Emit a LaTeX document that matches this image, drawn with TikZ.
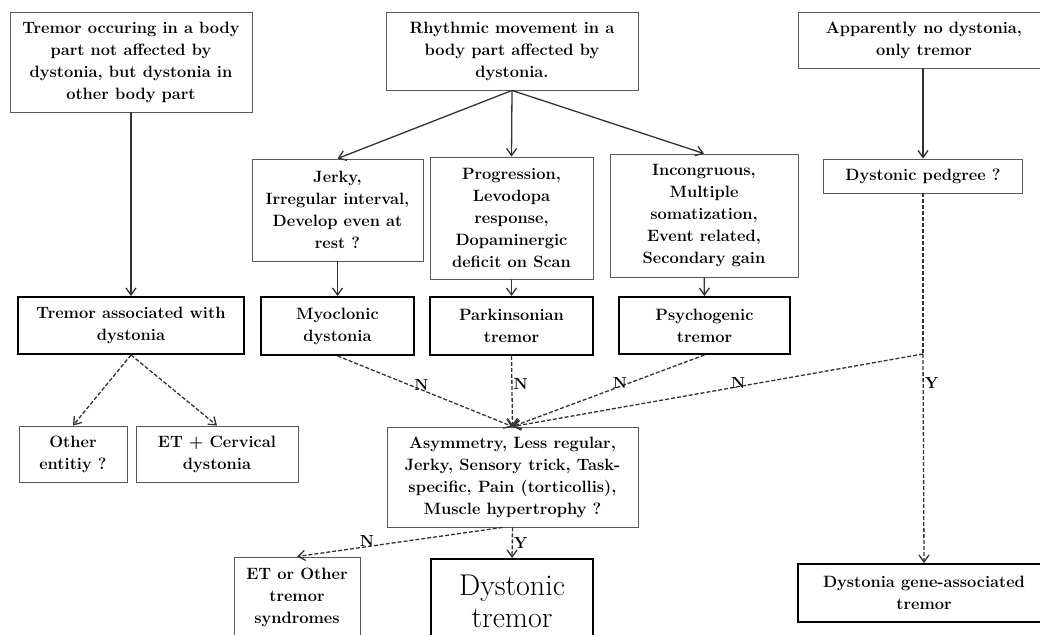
\documentclass[tikz,border=0pt]{standalone}
\usepackage{tikz}
\usetikzlibrary{arrows.meta}

\tikzset{
	box/.style={draw=black!65, line width=0.9pt, inner sep=2pt, align=center, font=\fontsize{16.4}{22}\selectfont\bfseries},
	boldbox/.style={box, draw=black, line width=1.9pt},
	arr/.style={draw=black!80, line width=1.3pt, -{Straight Barb[length=7pt,width=10pt]}},
	darr/.style={arr, dash pattern=on 4pt off 2pt},
	dline/.style={draw=black!80, line width=1.3pt, dash pattern=on 4pt off 2pt},
	lab/.style={font=\fontsize{16}{18}\selectfont\bfseries, inner sep=1pt}
}

\begin{document}
\begin{tikzpicture}[x=1pt,y=-1pt]
	\useasboundingbox (0,0) rectangle (1040,634);
	\clip (0,0) rectangle (1040,634);

	\node [box, minimum width=242, minimum height=100] (notaff) at (131,62) {Tremor occuring in a body\\part not affected by\\dystonia, but dystonia in\\other body part};
	\node [box, minimum width=252, minimum height=78] (rhythm) at (512,51) {Rhythmic movement in a\\body part affected by\\dystonia.};
	\node [box, minimum width=252, minimum height=56] (onlytrem) at (924,40) {Apparently no dystonia,\\only tremor};
	\node [box, minimum width=199, minimum height=34] (pedgree) at (923,176) {Dystonic pedgree ?};

	\node [box, minimum width=171, minimum height=102] (jerky) at (337.5,210) {Jerky,\\Irregular interval,\\Develop even at\\rest ?};
	\node [box, minimum width=163, minimum height=122] (progr) at (511.5,218) {Progression,\\Levodopa\\response,\\Dopaminergic\\deficit on Scan};
	\node [box, minimum width=188, minimum height=123] (incong) at (704,215.5) {Incongruous,\\Multiple\\somatization,\\Event related,\\Secondary gain};

	\node [boldbox, minimum width=226, minimum height=57] (assoc) at (131,325.5) {Tremor associated with\\dystonia};
	\node [boldbox, minimum width=153, minimum height=58] (myoclon) at (337.5,326) {Myoclonic\\dystonia};
	\node [boldbox, minimum width=163, minimum height=58] (parkin) at (511.5,326) {Parkinsonian\\tremor};
	\node [boldbox, minimum width=171, minimum height=57] (psycho) at (704.5,325.5) {Psychogenic\\tremor};

	\node [box, minimum width=108, minimum height=56] (other) at (73,454) {Other\\entitiy ?};
	\node [box, minimum width=162, minimum height=56] (etcerv) at (217,454) {ET + Cervical\\dystonia};
	\node [box, minimum width=251, minimum height=100] (asym) at (512.5,477) {Asymmetry, Less regular,\\Jerky, Sensory trick, Task-\\specific, Pain (torticollis),\\Muscle hypertrophy ?};

	\node [box, minimum width=126, minimum height=80] (etother) at (297,597) {ET or Other\\tremor\\syndromes};
	\node [boldbox, minimum width=162, minimum height=84, font=\fontsize{30}{32}\selectfont] (dysttrem) at (512,601) {Dystonic\\tremor};
	\node [boldbox, minimum width=252, minimum height=58] (geneassoc) at (924,593) {Dystonia gene-associated\\tremor};

	\coordinate (split) at (923,354);

	\draw [arr] (notaff) -- (assoc);
	\draw [arr] (rhythm.south) -- (jerky.north);
	\draw [arr] (rhythm.south) -- (progr.north);
	\draw [arr] (rhythm.south) -- (incong.north);
	\draw [arr] (pedgree.north |- onlytrem.south) -- (pedgree.north);
	\draw [arr] (jerky) -- (myoclon);
	\draw [arr] (progr) -- (parkin);
	\draw [arr] (incong) -- (psycho);

	\draw [darr] (assoc.south) -- (other.north);
	\draw [darr] (assoc.south) -- (etcerv.north);

	\draw [darr] (myoclon.south) -- node [lab, pos=0.48, yshift=5pt] {N} (asym.north);
	\draw [darr] (parkin.south) -- node [lab, pos=0.4, anchor=west] {N} (asym.north);
	\draw [darr] (psycho.south) -- node [lab, pos=0.44, yshift=3pt] {N} (asym.north);
	\draw [dline] (pedgree.south) -- (split);
	\draw [darr] (split) -- node [lab, pos=0.45, yshift=4pt] {N} (asym.north);
	\draw [darr] (split) -- node [lab, pos=0.14, anchor=west] {Y} (geneassoc.north);

	\draw [darr] (asym.south) -- node [lab, midway, anchor=west] {Y} (dysttrem.north);
	\draw [darr] ([xshift=-10pt]asym.south) -- node [lab, pos=0.66, yshift=6pt] {N} (etother.north);
\end{tikzpicture}
\end{document}
